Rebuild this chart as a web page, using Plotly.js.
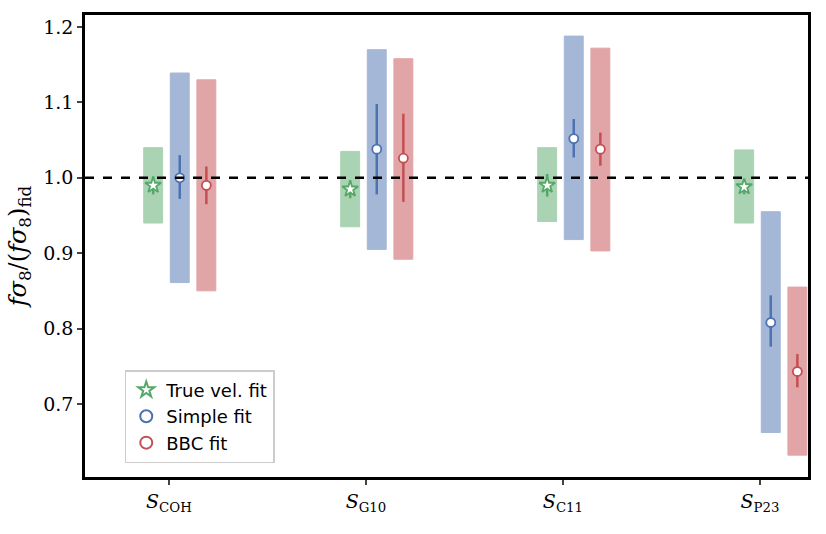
<!DOCTYPE html>
<html><head><meta charset="utf-8">
<script src="https://cdn.plot.ly/plotly-3.0.1.min.js"></script>
<style>body{margin:0}</style></head>
<body><div id="chart" style="width:826px;height:534px"></div>
<script>
var samples = ['<i>S</i><sub>COH</sub>', '<i>S</i><sub>G10</sub>', '<i>S</i><sub>C11</sub>', '<i>S</i><sub>P23</sub>'];
// true velocity fit
var trueVal = [0.990, 0.985, 0.990, 0.988];
var trueErr = [0.012, 0.012, 0.015, 0.010];
var trueLo = [0.940, 0.935, 0.942, 0.940];
var trueHi = [1.040, 1.035, 1.040, 1.037];
// simple fit
var simpleVal = [1.000, 1.038, 1.052, 0.808];
var simpleErrUp = [0.030, 0.060, 0.026, 0.036];
var simpleErrDn = [0.028, 0.060, 0.025, 0.032];
var simpleLo = [0.861, 0.905, 0.918, 0.662];
var simpleHi = [1.139, 1.170, 1.188, 0.955];
// BBC fit
var bbcVal = [0.990, 1.026, 1.038, 0.743];
var bbcErrUp = [0.025, 0.059, 0.022, 0.023];
var bbcErrDn = [0.025, 0.058, 0.022, 0.021];
var bbcLo = [0.850, 0.892, 0.903, 0.632];
var bbcHi = [1.130, 1.158, 1.172, 0.855];

var green = '#55a868', blue = '#4c72b0', red = '#c44e52';
var offs = [-0.08, 0.055, 0.19];
var idx = [0, 1, 2, 3];
function xs(o) { return idx.map(function (i) { return i + o; }); }

function box(o, lo, hi, c) {
  return {
    type: 'bar', x: xs(o), base: lo, y: hi.map(function (h, i) { return h - lo[i]; }),
    width: 0.096, marker: {color: c, opacity: 0.5, line: {color: c, width: 1}},
    showlegend: false, hoverinfo: 'skip'
  };
}
function pts(o, v, up, dn, c, sym, name) {
  return {
    type: 'scatter', mode: 'markers', name: name, x: xs(o), y: v,
    error_y: {type: 'data', symmetric: false, array: up, arrayminus: dn, color: c, thickness: 2.5, width: 0},
    marker: {symbol: sym, size: sym === 'star' ? 12 : 9, color: 'white', line: {color: c, width: 1.8}}
  };
}

var data = [
  box(offs[0], trueLo, trueHi, green),
  box(offs[1], simpleLo, simpleHi, blue),
  box(offs[2], bbcLo, bbcHi, red),
  pts(offs[0], trueVal, trueErr, trueErr, green, 'star', 'True vel. fit'),
  pts(offs[1], simpleVal, simpleErrUp, simpleErrDn, blue, 'circle', 'Simple fit'),
  pts(offs[2], bbcVal, bbcErrUp, bbcErrDn, red, 'circle', 'BBC fit')
];

var layout = {
  width: 826, height: 534, margin: {l: 85, r: 18, t: 15, b: 57},
  plot_bgcolor: 'white', paper_bgcolor: 'white', barmode: 'overlay',
  font: {family: 'DejaVu Serif, serif', size: 19, color: 'black'},
  xaxis: {range: [-0.426, 3.244], tickvals: idx, ticktext: samples, showgrid: false, zeroline: false,
    showline: true, mirror: true, linecolor: 'black', linewidth: 2.5, ticks: 'outside', ticklen: 5, tickwidth: 1.5},
  yaxis: {range: [0.603, 1.216], tickvals: [0.7, 0.8, 0.9, 1.0, 1.1, 1.2], ticktext: ['0.7', '0.8', '0.9', '1.0', '1.1', '1.2'],
    showgrid: false, zeroline: false, showline: true, mirror: true, linecolor: 'black', linewidth: 2.5,
    ticks: 'outside', ticklen: 5, tickwidth: 1.5,
    title: {text: '<i>fσ</i><sub>8</sub>/(<i>fσ</i><sub>8</sub>)<sub>fid</sub>', font: {size: 24}, standoff: 10}},
  shapes: [{type: 'line', xref: 'paper', x0: 0, x1: 1, y0: 1, y1: 1, line: {color: 'black', width: 2.5, dash: 'dash'}}],
  legend: {x: 0.055, y: 0.03, xanchor: 'left', yanchor: 'bottom', bgcolor: 'white', bordercolor: '#cccccc', borderwidth: 1.5,
    font: {family: 'DejaVu Sans, sans-serif', size: 18}, itemsizing: 'constant', tracegroupgap: 8}
};
Plotly.newPlot('chart', data, layout, {displayModeBar: false});
</script></body></html>
